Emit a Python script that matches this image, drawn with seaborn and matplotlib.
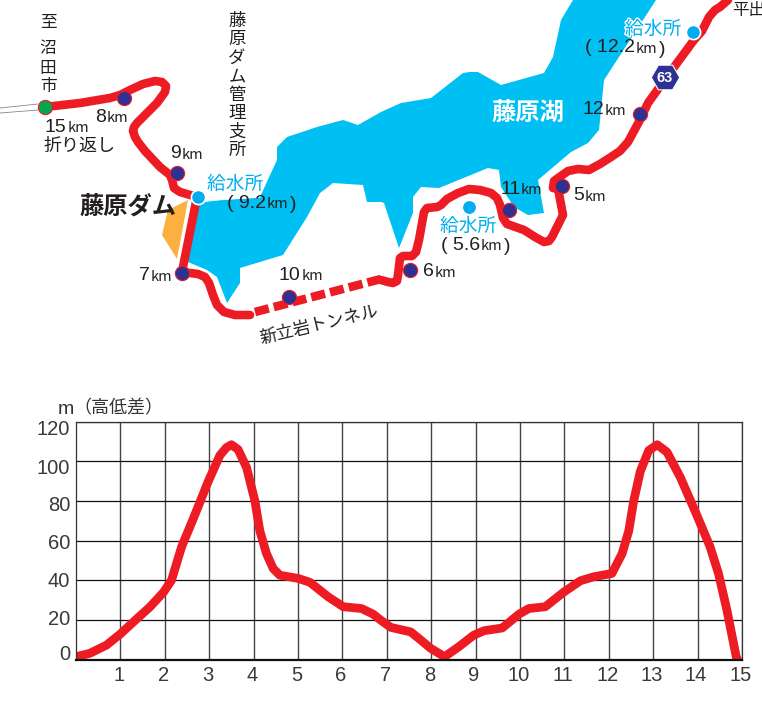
import matplotlib
matplotlib.use("Agg")
import matplotlib.pyplot as plt
import matplotlib.transforms as mtrans
import matplotlib.patheffects as pe
import pandas as pd
import seaborn as sns

sns.set_theme(style="white")
plt.rcParams['font.family'] = ['Noto Sans CJK JP', 'DejaVu Sans']

# elevation profile
km = [0, .31, .69, 1, 1.29, 1.67, 1.97, 2.15, 2.38, 2.64, 2.98, 3.24, 3.39, 3.5, 3.65, 3.84, 4.03, 4.14, 4.29,
      4.44, 4.59, 5, 5.27, 5.68, 6.02, 6.43, 6.69, 6.86, 7.09, 7.54, 7.76, 7.99, 8.3, 8.62, 8.96, 9.19, 9.6,
      9.98, 10.2, 10.57, 10.98, 11.36, 11.66, 12.07, 12.3, 12.45, 12.56, 12.71, 12.9, 13.09, 13.31, 13.61,
      13.98, 14.28, 14.47, 14.66, 14.87, 14.92]
height = [1.5, 3.2, 7.4, 13, 19, 26.7, 34, 40, 57, 71, 90, 103, 107, 108.4, 106, 97, 80, 65, 53.5,
          46, 42.6, 41, 39, 31.7, 26.7, 25.8, 23, 20, 16.3, 14, 10, 5.7, 1.5, 6.5, 12.4, 14.6, 16,
          23, 25.8, 26.7, 34, 39.8, 41.8, 43.5, 53.5, 65, 80, 95, 105.5, 108.4, 104.7, 92,
          73, 57, 43.5, 25, 1.5, -1]
x_ticks = list(range(1, 16))
y_ticks = [0, 20, 40, 60, 80, 100, 120]
y_label_shift = [7, 3, 1, -1, -2, -5, -6]

# map data, in picture pixels
road_west_x = [45, 80, 110, 120, 130, 143, 155, 162, 166, 165, 157, 147, 137, 134, 133, 135, 138, 145, 160, 170, 172,
               174, 180, 197, 182, 198, 205, 209, 213, 217, 224, 235, 250]
road_west_y = [107, 103, 98, 95, 90, 84, 81, 82, 86, 92, 103, 113, 123, 127, 131, 137, 142, 151, 167, 175, 180,
               188, 192, 197, 272, 274, 277, 283, 295, 305, 312, 315, 315]
road_east_x = [381, 388, 393, 397, 398, 400, 403, 412, 416, 419, 424, 427, 437, 441, 447, 458, 469, 480, 491, 497,
               500, 503, 507, 524, 535, 544, 549, 552, 563, 558, 553, 554, 558, 568, 578, 589, 600, 611, 620, 628,
               641, 648, 666, 694, 702, 705, 709, 715, 720, 728]
road_east_y = [280, 282, 283, 281, 275, 258, 256, 256, 252, 240, 212, 208, 207, 205, 199, 193, 189, 190, 193, 198,
               205, 218, 224, 230, 237, 242, 241, 237, 215, 200, 188, 181, 177, 171, 169, 170, 164, 157, 151, 142,
               118, 103, 78, 40, 31, 25, 17, 10, 7, 0]
tunnel_x = [255, 381]
tunnel_y = [312, 279]
lake_x = [198, 220, 260, 277, 277, 287, 317, 343, 358, 381, 401, 431, 463, 470, 478, 501, 544, 553, 561, 573, 656,
          604, 599, 588, 571, 538, 544, 528, 514, 501, 499, 488, 439, 421, 413, 413, 399, 384, 381, 367, 363,
          333, 320, 307, 283, 240, 240, 227, 217, 207, 188]
lake_y = [203, 200, 197, 160, 147, 137, 127, 120, 125, 112, 103, 98, 73, 72, 72, 85, 73, 57, 20, 0, 0,
          80, 130, 143, 152, 180, 213, 215, 207, 187, 170, 168, 188, 187, 197, 213, 248, 203, 202, 202, 185,
          183, 193, 217, 255, 268, 283, 303, 277, 270, 262]
dam_x = [188, 168, 162, 177, 188]
dam_y = [200, 210, 235, 259, 200]
stop_x = [124, 177, 182, 289, 562, 410, 509, 640]
stop_y = [98, 173, 273, 297, 186, 270, 210, 114]
water_x = [198, 469, 693]
water_y = [197, 207, 32]
water_edge = [True, False, True]
dark = "#231F20"
red = "#ED1C24"
blue = "#00AEEF"

fig = plt.figure(figsize=(7.62, 7.2), dpi=100)

# profile chart
ax = fig.add_axes([76 / 762, 60.3 / 720, 666 / 762, 238 / 720])
for v in x_ticks:
    ax.axvline(v, color="#444444", lw=1.0, zorder=1)
for v in y_ticks[1:]:
    ax.axhline(v, color="#111111", lw=0.9, zorder=1)
sns.lineplot(data=pd.DataFrame({"km": km, "m": height}), x="km", y="m", color=red, lw=6.3, ax=ax,
             sort=False, zorder=3, errorbar=None, solid_joinstyle="round")
ax.set_xlim(0, 15)
ax.set_ylim(0, 120)
ax.set(xlabel="", ylabel="")
ax.set_xticks(x_ticks)
ax.set_yticks(y_ticks)
ax.tick_params(length=0, pad=5, labelsize=14.5, labelcolor="#3a3a3a")
for lab in ax.get_xticklabels() + ax.get_yticklabels():
    lab.set_fontfamily(['Liberation Sans'])
for lab, dy in zip(ax.get_yticklabels(), y_label_shift):
    lab.set_transform(lab.get_transform() + mtrans.Affine2D().translate(1, dy))
for lab in ax.get_xticklabels():
    lab.set_transform(lab.get_transform() + mtrans.Affine2D().translate(-1.5, 1))
for s in ax.spines.values():
    s.set_color("#333333")
    s.set_linewidth(0.9)
    s.set_zorder(4)
ax.spines["bottom"].set_linewidth(1.6)
ax.spines["bottom"].set_color("#111111")

# map, full figure in pixel coordinates
mp = fig.add_axes([0, 0, 1, 1])
mp.set_xlim(0, 762)
mp.set_ylim(720, 0)
mp.axis("off")
mp.patch.set_alpha(0)

mp.fill(lake_x, lake_y, color="#00BFF3", lw=0, zorder=1)
mp.fill(dam_x, dam_y, color="#FBB040", lw=0, zorder=1)
mp.plot([0, 38], [108, 104], color="#888888", lw=0.6)
mp.plot([0, 38], [113, 110], color="#888888", lw=0.6)
mp.plot([198, 260], [201, 197], color="white", lw=1.0, zorder=2)

line_kw = dict(color=red, lw=6.2, sort=False, ax=mp, errorbar=None, zorder=3, legend=False)
sns.lineplot(x=road_west_x, y=road_west_y, solid_joinstyle="round", **line_kw)
sns.lineplot(x=road_east_x, y=road_east_y, solid_joinstyle="round", **line_kw)
sns.lineplot(x=tunnel_x, y=tunnel_y, linestyle=(0, (1.65, 0.6)), **line_kw)

sns.scatterplot(x=stop_x, y=stop_y, color="#2E3192", edgecolor=red, linewidth=0.8, s=105, ax=mp, zorder=5)
sns.scatterplot(x=[45], y=[107], color="#00A651", edgecolor=red, linewidth=0.8, s=105, ax=mp, zorder=5)
for wx, wy, we in zip(water_x, water_y, water_edge):
    sns.scatterplot(x=[wx], y=[wy], color=blue, edgecolor="white" if we else blue, linewidth=1.2 if we else 0,
                    s=105 if we else 85, ax=mp, zorder=5)
mp.set_xlim(0, 762)
mp.set_ylim(720, 0)
mp.axis("off")

sns.scatterplot(x=[665], y=[77], marker="H", color="#2E3192", edgecolor="white", linewidth=0.8, s=420, ax=mp, zorder=6)
mp.text(665, 77.5, "63", color="white", fontsize=10.5, fontweight="bold", ha="center", va="center",
        family=['Liberation Sans Narrow', 'Liberation Sans'], zorder=7)


def km_text(x, y, num, color=dark, after=""):
    # big digits + small km, the way the map sets them
    t = mp.text(x, y, num, fontsize=14, color=color, va="center", ha="left", family=['Liberation Sans'], zorder=8)
    k = mp.annotate("km", xy=(1, 0.02), xycoords=t, xytext=(0.5, 0), textcoords="offset points", fontsize=10.5,
                    color=color, va="bottom", ha="left", zorder=8)
    if after:
        mp.annotate(after, xy=(1, 0), xycoords=k, xytext=(1, -1), textcoords="offset points", fontsize=14,
                    color=color, va="bottom", ha="left", family=['Liberation Sans'], zorder=8)


km_text(95, 117, "8")
km_text(45, 127, "15")
km_text(170, 154, "9")
km_text(139, 276, "7")
km_text(279, 275, "10")
km_text(423, 272, "6")
km_text(573, 196, "5")
km_text(500, 189, "11")
km_text(582, 110, "12")
km_text(227, 203, "( 9.2", after=")")
km_text(441, 245, "( 5.6", after=")")
km_text(585, 48, "( 12.2", after=")")

halo = [pe.withStroke(linewidth=2, foreground="white")]
for tx, ty in [(207, 184), (440, 226), (625, 29)]:
    mp.text(tx, ty, "給水所", color=blue, fontsize=13.5, va="center", ha="left", path_effects=halo, zorder=8)

mp.text(44, 146, "折り返し", color=dark, fontsize=13, va="center", ha="left", zorder=8)
mp.text(79, 207, "藤原ダム", color=dark, fontsize=17.5, fontweight="bold", va="center", ha="left", zorder=8)
mp.text(491, 113, "藤原湖", color="white", fontsize=17.5, fontweight="bold", va="center", ha="left", zorder=8)
mp.text(732, 10, "平出", color=dark, fontsize=12, va="center", ha="left", zorder=8)
mp.text(319, 325, "新立岩トンネル", color=dark, fontsize=12.5, rotation=13.5, rotation_mode="anchor",
        va="center", ha="center", zorder=8)

for ch, cy in zip("至沼田市", [23, 48, 68, 87]):
    mp.text(48, cy, ch, color=dark, fontsize=12, va="center", ha="center", zorder=8)
for i, ch in enumerate("藤原ダム管理支所"):
    mp.text(237, 21 + i * 18.4, ch, color=dark, fontsize=12.5, va="center", ha="center", zorder=8)

mp.text(66, 409, "m", color="#333333", fontsize=14, va="center", ha="center", family=['Liberation Sans'])
mp.text(118, 408, "（高低差）", color="#333333", fontsize=13, va="center", ha="center")

fig.savefig("out.png", dpi=100)
